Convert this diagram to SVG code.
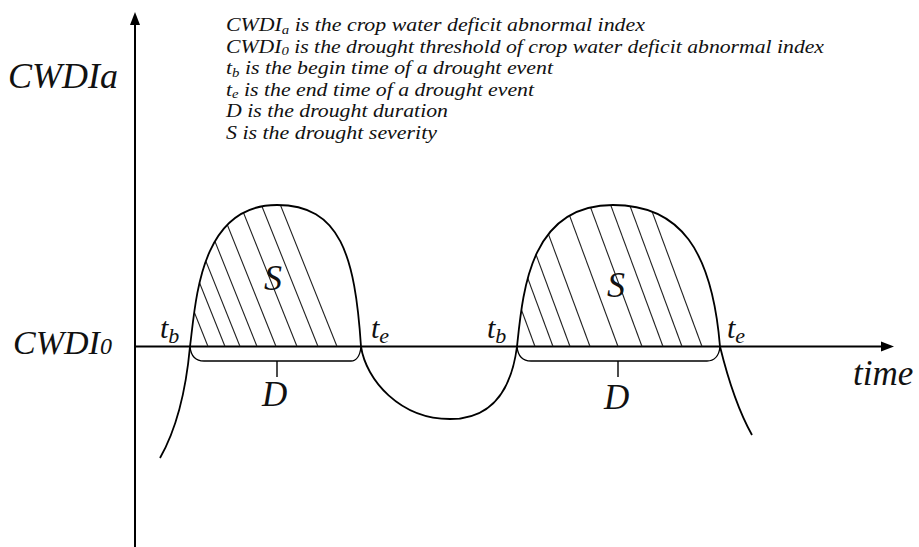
<svg xmlns="http://www.w3.org/2000/svg" width="919" height="547" viewBox="0 0 919 547">
<style>
.ax{stroke:#000;stroke-width:2;fill:none}
.cv{stroke:#000;stroke-width:1.8;fill:none}
.ht{stroke:#222;stroke-width:1.1}
.br{stroke:#000;stroke-width:1.4;fill:none}
.it{font-family:"Liberation Serif","Times New Roman",serif;font-style:italic;fill:#111}
.lg{font-size:18.5px}
.sb{font-size:12.5px}
</style>
<defs>
<clipPath id="h1"><path d="M190,346.5 C196,300 200,205 277,205 C340,205 355,255 361,346.5 Z"/></clipPath>
<clipPath id="h2"><path d="M517,346.5 C523,290 530,205 613,205 C680,205 712,250 720,346.5 Z"/></clipPath>
</defs>
<rect width="919" height="547" fill="#fff"/>
<g id="axes">
<line class="ax" x1="135" y1="547" x2="135" y2="22"/>
<polygon points="135,12 130,25 140,25" fill="#000"/>
<line class="ax" x1="135" y1="346.5" x2="882" y2="346.5"/>
<polygon points="894,346.5 881,341.5 881,351.5" fill="#000"/>
</g>
<g id="hatch1" clip-path="url(#h1)">
<g class="ht">
<line x1="208" y1="346.5" x2="149.6" y2="200.5"/>
<line x1="225" y1="346.5" x2="166.6" y2="200.5"/>
<line x1="240" y1="346.5" x2="181.6" y2="200.5"/>
<line x1="257" y1="346.5" x2="198.6" y2="200.5"/>
<line x1="276" y1="346.5" x2="217.6" y2="200.5"/>
<line x1="297" y1="346.5" x2="238.6" y2="200.5"/>
<line x1="318" y1="346.5" x2="259.6" y2="200.5"/>
<line x1="337" y1="346.5" x2="278.6" y2="200.5"/>
</g>
</g>
<g id="hatch2" clip-path="url(#h2)">
<g class="ht">
<line x1="535" y1="346.5" x2="481" y2="200.5"/>
<line x1="553" y1="346.5" x2="499" y2="200.5"/>
<line x1="570" y1="346.5" x2="516" y2="200.5"/>
<line x1="590" y1="346.5" x2="536" y2="200.5"/>
<line x1="618" y1="346.5" x2="564" y2="200.5"/>
<line x1="642" y1="346.5" x2="588" y2="200.5"/>
<line x1="663" y1="346.5" x2="609" y2="200.5"/>
<line x1="682" y1="346.5" x2="628" y2="200.5"/>
<line x1="702" y1="346.5" x2="648" y2="200.5"/>
</g>
</g>
<g id="curve">
<path class="cv" d="M160,458 C176,430 186,390 190,346.5 C196,300 200,205 277,205 C340,205 355,255 361,346.5 C366,380 400,419 450,419 C495,419 512,385 517,346.5 C523,290 530,205 613,205 C680,205 712,250 720,346.5 C727,375 738,410 752,435"/>
</g>
<g id="durations">
<path class="br" d="M190,347 C191,356 196,361 204,361 H351 C356,361 360,356 361,347 M277,361 V377"/>
<path class="br" d="M517,347 C518,356 523,361 531,361 H707 C714,361 719,356 720,347 M618,361 V377"/>
</g>
<g id="labels" class="it">
<text x="8" y="88" font-size="36">CWDIa</text>
<text x="13" y="354" font-size="34">CWDI<tspan font-size="24">0</tspan></text>
<text x="853" y="385" font-size="35">time</text>
<text x="160" y="338" font-size="30">t<tspan font-size="22" dy="5">b</tspan></text>
<text x="371" y="338" font-size="30">t<tspan font-size="22" dy="5">e</tspan></text>
<text x="487" y="338" font-size="30">t<tspan font-size="22" dy="5">b</tspan></text>
<text x="727" y="338" font-size="30">t<tspan font-size="22" dy="5">e</tspan></text>
<text x="264" y="290" font-size="36">S</text>
<text x="607" y="297" font-size="36">S</text>
<text x="262" y="406" font-size="35">D</text>
<text x="604" y="409" font-size="35">D</text>
</g>
<g id="legend" class="it lg">
<text x="226" y="31" textLength="419" lengthAdjust="spacingAndGlyphs">CWDI<tspan class="sb" dy="2.5">a</tspan><tspan dy="-2.5"> is the crop water deficit abnormal index</tspan></text>
<text x="226" y="52.5" textLength="598" lengthAdjust="spacingAndGlyphs">CWDI<tspan class="sb" dy="2.5">0</tspan><tspan dy="-2.5"> is the drought threshold of crop water deficit abnormal index</tspan></text>
<text x="226" y="74" textLength="327" lengthAdjust="spacingAndGlyphs">t<tspan class="sb" dy="2.5">b</tspan><tspan dy="-2.5"> is the begin time of a drought event</tspan></text>
<text x="226" y="95.5" textLength="308" lengthAdjust="spacingAndGlyphs">t<tspan class="sb" dy="2.5">e</tspan><tspan dy="-2.5"> is the end time of a drought event</tspan></text>
<text x="226" y="117" textLength="222" lengthAdjust="spacingAndGlyphs">D is the drought duration</text>
<text x="226" y="138.5" textLength="211" lengthAdjust="spacingAndGlyphs">S is the drought severity</text>
</g>
</svg>
